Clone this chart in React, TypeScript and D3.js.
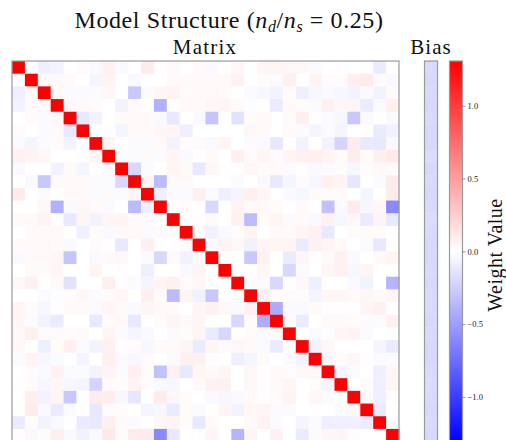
import React, { Component, createRef } from 'react';
import * as d3 from 'd3';

// upper triangle of the symmetric weight matrix, row i holds columns i+1..29
const upperRows: number[][] = [
  [0, -0.08, -0.06, 0, 0.02, -0.03, 0.07, -0.03, 0, 0.1, 0, 0.03, 0, 0.03, -0.03, 0, 0.04, 0, 0.05, 0.05, 0.04, 0.04, -0.02, 0, 0.01, 0, 0.01, -0.1, 0.01],
  [0.03, 0.03, 0.03, 0, -0.05, 0.06, 0, -0.03, 0, 0, 0.03, 0.03, 0.03, 0.03, 0.03, 0.07, 0, 0.02, -0.02, 0.08, 0, 0.06, 0.02, 0.02, 0.08, 0.1, 0.02, -0.03],
  [0.03, -0.02, -0.02, -0.02, 0.04, 0, -0.28, -0.02, 0.04, 0.06, 0.02, 0.03, 0.03, 0.02, 0, -0.02, -0.04, -0.06, 0.02, -0.08, -0.04, -0.03, -0.04, -0.06, -0.03, -0.06, 0.02],
  [0.04, 0.03, 0.02, 0, -0.06, 0.03, 0, -0.4, 0, 0.03, 0.02, 0.04, 0.05, 0.03, -0.01, 0.01, -0.1, 0.03, 0.02, -0.02, 0.07, 0.04, 0.05, -0.1, -0.03, 0.08],
  [-0.12, -0.06, 0, 0.03, 0.03, 0.03, -0.03, -0.12, 0, -0.03, -0.3, 0, -0.15, 0.02, 0.03, 0, 0.02, 0.08, 0, -0.02, -0.04, -0.28, -0.02, 0.01, -0.03],
  [0, 0.01, -0.05, 0.03, 0.03, 0.04, 0.05, -0.08, 0, 0, 0, 0, 0.04, 0.03, 0, 0.03, -0.02, -0.05, -0.02, -0.05, 0, 0.01, -0.1, -0.07],
  [0.05, 0, -0.02, -0.02, 0.03, -0.06, 0.02, 0.02, -0.03, 0.05, 0, -0.02, -0.03, -0.12, 0, -0.06, 0, -0.06, -0.22, 0.1, -0.12, -0.12, -0.03],
  [-0.02, -0.02, 0.03, -0.02, 0.05, -0.03, 0, 0.03, 0, 0.08, 0.02, 0.05, 0.02, 0.05, 0.07, 0.08, 0.06, 0.02, 0.09, 0.02, 0.08, 0.12],
  [-0.2, -0.02, 0, 0.05, 0.03, -0.12, 0.04, 0.01, 0.01, 0.04, 0.02, 0.03, -0.02, 0.01, -0.03, -0.02, 0.02, -0.04, 0.02, 0.03, 0.02],
  [0.05, -0.35, 0.03, 0.03, 0, 0, 0, -0.02, 0, -0.03, -0.12, -0.05, 0.02, -0.04, 0.08, 0.06, -0.13, 0, -0.02, 0.1],
  [-0.08, -0.02, -0.02, 0.08, -0.02, -0.08, -0.05, 0.08, 0.05, 0, -0.03, -0.04, 0.03, 0.02, 0.02, 0, -0.05, 0, 0.1],
  [0, 0.02, 0, -0.2, 0, 0.06, 0.03, 0.03, 0.02, 0, 0.03, 0, -0.32, -0.03, 0.1, -0.04, 0.04, -0.6],
  [0.01, 0.01, 0.03, 0, 0.07, -0.35, 0.02, 0.05, -0.02, 0.03, -0.03, 0.07, -0.04, 0.04, -0.1, 0.06, -0.12],
  [0.02, -0.07, -0.03, 0.02, 0.06, 0, 0.03, 0.02, 0.05, 0.07, -0.12, 0, 0.02, 0.02, 0.02, 0],
  [-0.02, 0.06, 0.04, -0.07, 0.05, 0.05, 0.05, -0.1, 0.07, 0.05, 0.03, 0, -0.02, -0.12, 0],
  [0, 0, -0.28, 0.07, 0, -0.1, 0.05, 0.01, 0.03, 0.07, -0.03, 0, 0.03, 0.05],
  [0, 0, 0.04, 0, -0.2, -0.02, 0, 0.05, 0.07, -0.04, 0.05, 0, 0],
  [0.02, -0.03, -0.2, 0, 0.04, -0.08, 0, 0, -0.03, -0.06, 0, -0.38],
  [0.07, 0.02, 0.02, 0.02, -0.05, 0.04, 0.04, 0.03, 0.04, 0.03, 0.05],
  [-0.42, -0.03, -0.03, 0.03, 0.01, 0.01, 0.01, 0.05, 0.07, 0],
  [0.03, -0.1, 0, 0.03, 0.03, 0.02, -0.02, -0.02, 0.07],
  [0, -0.02, -0.01, 0.05, 0.06, -0.02, 0, 0],
  [-0.06, 0.04, 0, 0, 0, -0.05, -0.1],
  [0.04, 0.02, 0.04, 0.01, -0.02, -0.02],
  [-0.05, -0.02, 0, -0.08, 0.04],
  [0, 0.02, -0.08, 0.05],
  [0.03, -0.08, -0.01],
  [-0.1, 0],
  [0],
];

const diagonal = [
  1.31, 1.31, 1.31, 1.31, 1.31, 1.31, 1.31, 1.31, 1.31, 1.31,
  1.31, 1.31, 1.31, 1.31, 1.31, 1.31, 1.31, 1.31, 1.31, 1.31,
  1.31, 1.31, 1.31, 1.31, 1.31, 1.31, 1.31, 1.31, 1.31, 1.31,
];

const bias = [
  -0.19, -0.2, -0.19, -0.2, -0.19, -0.2, -0.2, -0.18, -0.2, -0.19,
  -0.2, -0.19, -0.18, -0.19, -0.2, -0.2, -0.19, -0.2, -0.19, -0.19,
  -0.2, -0.19, -0.2, -0.2, -0.19, -0.18, -0.19, -0.2, -0.19, -0.2,
];

const cbTicks = [-1.0, -0.5, 0.0, 0.5, 1.0];
const vmax = 1.307;

const FONT = '"Liberation Serif", "DejaVu Serif", serif';

class App extends Component {
  svgRef = createRef<SVGSVGElement>();

  render() {
    return (
      <svg ref={this.svgRef} width={506} height={440}
        style={{ position: 'absolute', left: 0, top: 0, background: '#fff' }} />
    );
  }

  componentDidMount() {
    this._draw();
  }

  _draw() {
    const n = diagonal.length;
    // full matrix from the symmetric upper triangle
    const cells: { r: number; c: number; v: number }[] = [];
    for (let r = 0; r < n; r++) {
      for (let c = 0; c < n; c++) {
        let v;
        if (r === c) v = diagonal[r];
        else if (c > r) v = upperRows[r][c - r - 1];
        else v = upperRows[c][r - c - 1];
        cells.push({ r, c, v });
      }
    }

    const top = 61, bottom = 441.6;
    const color = d3.scaleLinear<string>()
      .domain([-vmax, 0, vmax])
      .range(['#0000ff', '#ffffff', '#ff0000'])
      .clamp(true);

    const x = d3.scaleBand<number>().domain(d3.range(n)).range([12, 399]);
    const y = d3.scaleBand<number>().domain(d3.range(n)).range([top, bottom]);
    const bx = d3.scaleBand<number>().domain([0]).range([424.5, 437.5]);

    const svg = d3.select(this.svgRef.current);
    svg.selectAll('*').remove();

    // title
    const title = svg.append('text')
      .attr('x', 229).attr('y', 28)
      .attr('text-anchor', 'middle')
      .attr('font-family', FONT).attr('font-size', 24)
      .attr('letter-spacing', 0.6)
      .attr('fill', '#111');
    title.append('tspan').text('Model Structure (');
    title.append('tspan').attr('font-style', 'italic').text('n');
    title.append('tspan').attr('font-style', 'italic').attr('font-size', 16).attr('dy', 4).text('d');
    title.append('tspan').attr('dy', -4).text('/');
    title.append('tspan').attr('font-style', 'italic').text('n');
    title.append('tspan').attr('font-style', 'italic').attr('font-size', 16).attr('dy', 4).text('s');
    title.append('tspan').attr('dy', -4).text(' = 0.25)');

    svg.append('text').text('Matrix')
      .attr('x', 205).attr('y', 54).attr('text-anchor', 'middle')
      .attr('font-family', FONT).attr('font-size', 21).attr('letter-spacing', 1.2)
      .attr('fill', '#111');
    svg.append('text').text('Bias')
      .attr('x', 431).attr('y', 54).attr('text-anchor', 'middle')
      .attr('font-family', FONT).attr('font-size', 21).attr('letter-spacing', 1)
      .attr('fill', '#111');

    // matrix cells
    svg.append('g').selectAll('rect').data(cells).join('rect')
      .attr('x', d => x(d.c)!)
      .attr('y', d => y(d.r)!)
      .attr('width', x.bandwidth() + 0.4)
      .attr('height', y.bandwidth() + 0.4)
      .attr('fill', d => color(d.v));
    svg.append('rect')
      .attr('x', 12).attr('y', top).attr('width', 387).attr('height', bottom - top)
      .attr('fill', 'none').attr('stroke', '#9a9a9a').attr('stroke-width', 1.2);

    // bias column
    svg.append('g').selectAll('rect').data(bias).join('rect')
      .attr('x', bx(0)!)
      .attr('y', (d, i) => y(i)!)
      .attr('width', bx.bandwidth())
      .attr('height', y.bandwidth() + 0.4)
      .attr('fill', d => color(d));
    svg.append('rect')
      .attr('x', 424.5).attr('y', top).attr('width', 13).attr('height', bottom - top)
      .attr('fill', 'none').attr('stroke', '#9a9a9a').attr('stroke-width', 1.2);

    // colorbar
    const grad = svg.append('defs').append('linearGradient')
      .attr('id', 'bwr').attr('x1', 0).attr('y1', 1).attr('x2', 0).attr('y2', 0);
    grad.append('stop').attr('offset', '0%').attr('stop-color', '#0000ff');
    grad.append('stop').attr('offset', '50%').attr('stop-color', '#ffffff');
    grad.append('stop').attr('offset', '100%').attr('stop-color', '#ff0000');

    const cy = d3.scaleLinear().domain([-vmax, vmax]).range([bottom, top]);
    svg.append('rect')
      .attr('x', 449.5).attr('y', top).attr('width', 13).attr('height', bottom - top)
      .attr('fill', 'url(#bwr)').attr('stroke', '#9a9a9a').attr('stroke-width', 1.2);

    const axis = svg.append('g')
      .attr('transform', 'translate(462.5,0)')
      .call(d3.axisRight(cy).tickValues(cbTicks).tickFormat(d3.format('.1f')).tickSize(3));
    axis.select('.domain').remove();
    axis.selectAll('line').attr('stroke', '#555').attr('stroke-width', 0.6);
    axis.selectAll('text')
      .attr('font-family', FONT).attr('font-size', 8.5).attr('fill', '#222').attr('x', 5);

    svg.append('text').text('Weight Value')
      .attr('transform', 'translate(502,255) rotate(-90)')
      .attr('text-anchor', 'middle')
      .attr('font-family', FONT).attr('font-size', 20).attr('letter-spacing', 0.5)
      .attr('fill', '#111');
  }
}

export default App;
